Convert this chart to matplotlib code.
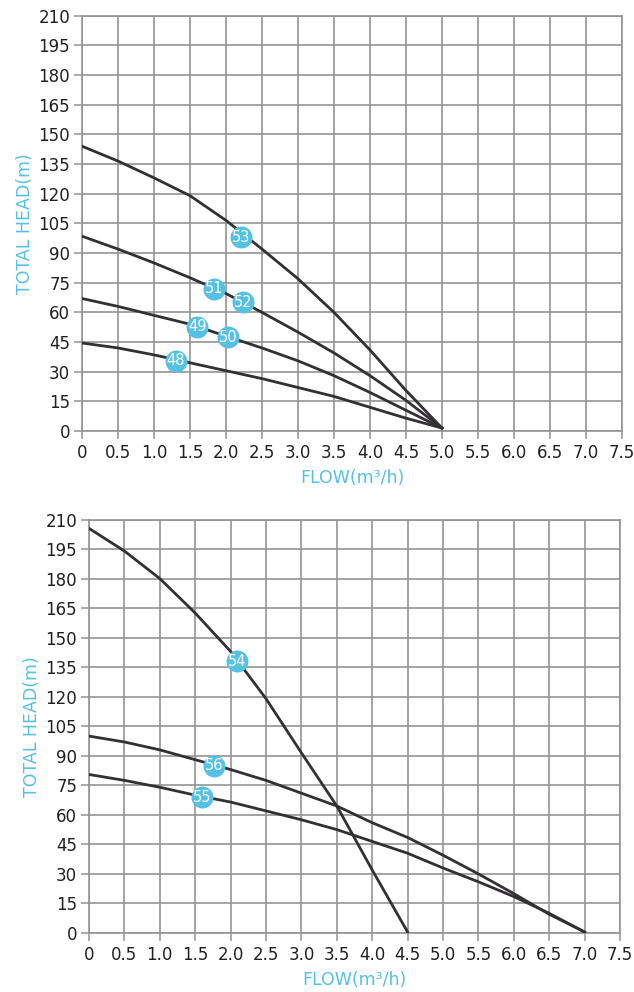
import numpy as np
import matplotlib
matplotlib.use("Agg")
import matplotlib.pyplot as plt

# flow points (m3/h) for the upper chart
flow_top = [0, 0.5, 1.0, 1.5, 2.0, 2.5, 3.0, 3.5, 4.0, 4.5, 5.0]
head_53 = [144, 136.5, 128, 119, 106.5, 92, 77, 60, 41, 20.5, 1.5]
head_51 = [98.5, 92, 85, 77.5, 69.5, 60, 50, 39.5, 28, 15.5, 1.5]
head_49 = [67, 63, 58.5, 54, 48, 42, 35.5, 28, 19.5, 10.5, 1.5]
head_48 = [44.5, 42, 38.5, 34.5, 30.5, 26.5, 22, 17.5, 12, 6.5, 1.5]

# lower chart
flow_54 = [0, 0.5, 1.0, 1.5, 2.0, 2.5, 3.0, 3.5, 4.0, 4.5]
head_54 = [205.5, 194, 180, 162.5, 143, 119, 91.5, 64.5, 32, 0.5]
flow_55 = [0, 0.5, 1.0, 1.5, 2.0, 2.5, 3.0, 3.5, 4.0, 4.5, 5.0, 5.5, 6.0, 6.5, 7.0]
head_56 = [100, 97, 93, 88, 83, 77.5, 71, 64.5, 56, 48.5, 39.5, 30, 20, 9.5, 0.5]
head_55 = [80.5, 77.5, 74, 70, 66.5, 62, 57.5, 52.5, 46.5, 40.5, 33, 26, 18.5, 10, 0.5]

# model badges: name, flow, head
badges_top = [("53", 2.21, 98.0), ("51", 1.83, 72.0), ("52", 2.24, 65.0),
              ("49", 1.60, 52.7), ("50", 2.03, 47.4), ("48", 1.30, 35.5)]
badges_bot = [("54", 2.09, 138.0), ("56", 1.76, 85.0), ("55", 1.59, 69.0)]

x_ticks = np.arange(0, 7.51, 0.5)
x_labels = ["0"] + ["%.1f" % v for v in x_ticks[1:]]
y_ticks = np.arange(0, 211, 15)

BLUE = "#55c1e3"
GRID = "#939393"
LINE = "#333033"
TXT = "#231f20"


def setup(ax):
    ax.set_xlim(0, 7.5)
    ax.set_ylim(0, 210)
    ax.set_xticks(x_ticks)
    ax.set_xticklabels(x_labels)
    ax.set_yticks(y_ticks)
    ax.grid(True, color=GRID, lw=1.2)
    ax.set_axisbelow(True)
    for s in ax.spines.values():
        s.set_color(GRID)
        s.set_linewidth(1.2)
    ax.tick_params(direction="out", length=5.5, width=1.1, color=GRID,
                   labelsize=12, labelcolor=TXT, pad=3)
    ax.tick_params(axis="x", pad=4)
    ax.set_xlabel("FLOW(m³/h)", color=BLUE, fontsize=12.5, labelpad=5)
    ax.set_ylabel("TOTAL HEAD(m)", color=BLUE, fontsize=12.5, labelpad=3)


def badges(ax, items):
    for name, fx, fy in items:
        ax.scatter([fx], [fy], s=250, color=BLUE, zorder=5, linewidths=0)
        ax.text(fx, fy, name, color="white", fontsize=10.5, ha="center",
                va="center", zorder=6)


fig = plt.figure(figsize=(6.34, 9.92), dpi=100)

ax1 = fig.add_axes([0.1293, 0.5655, 0.8517, 0.4187])
setup(ax1)
for h in [head_53, head_51, head_49, head_48]:
    ax1.plot(flow_top, h, color=LINE, lw=2, zorder=3)
badges(ax1, badges_top)

ax2 = fig.add_axes([0.1404, 0.0595, 0.8375, 0.4168])
setup(ax2)
ax2.plot(flow_54, head_54, color=LINE, lw=2, zorder=3)
ax2.plot(flow_55, head_56, color=LINE, lw=2, zorder=3)
ax2.plot(flow_55, head_55, color=LINE, lw=2, zorder=3)
badges(ax2, badges_bot)

fig.savefig("out.png", dpi=100)
